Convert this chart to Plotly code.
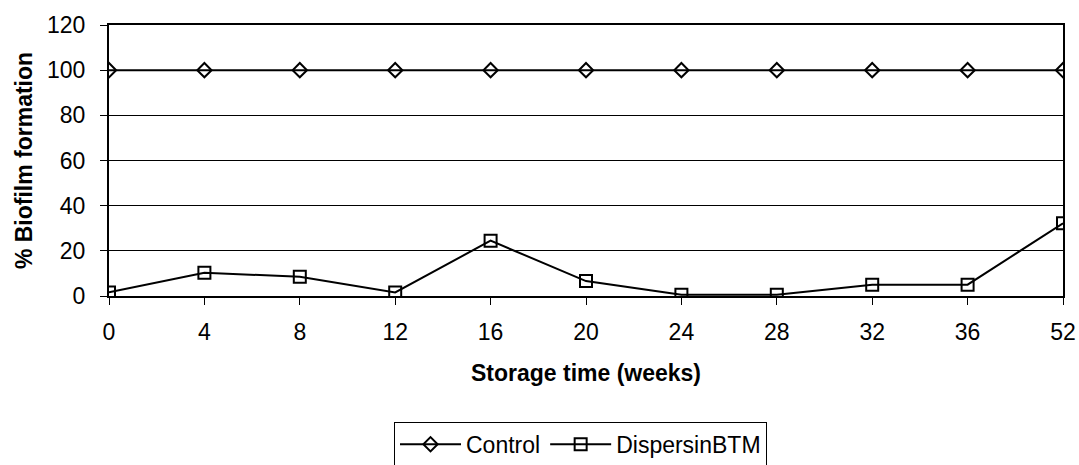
import plotly.graph_objects as go

weeks = ["0", "4", "8", "12", "16", "20", "24", "28", "32", "36", "52"]
control = [100, 100, 100, 100, 100, 100, 100, 100, 100, 100, 100]
dispersin = [1.6, 10.3, 8.5, 1.6, 24.5, 6.6, 0.6, 0.6, 5.0, 5.0, 32.2]

FONT = "Liberation Sans, Arial, sans-serif"
FS = 23

fig = go.Figure()
fig.add_trace(go.Scatter(
    x=weeks, y=control, name="Control", mode="lines+markers",
    line=dict(color="black", width=2),
    marker=dict(symbol="diamond-open", size=11, color="black", line=dict(width=2)),
))
fig.add_trace(go.Scatter(
    x=weeks, y=dispersin, name="DispersinBTM", mode="lines+markers",
    line=dict(color="black", width=2),
    marker=dict(symbol="square-open", size=12, color="black", line=dict(width=2)),
))

fig.update_layout(
    width=1079, height=465,
    margin=dict(l=109, r=16, t=25, b=169, autoexpand=False),
    paper_bgcolor="white", plot_bgcolor="white",
    font=dict(family=FONT, size=FS, color="black"),
    showlegend=True,
    legend=dict(
        orientation="h", xref="container", yref="container",
        x=0.538, xanchor="center", y=0.093, yanchor="top",
        bordercolor="black", borderwidth=1, bgcolor="white",
        font=dict(family=FONT, size=FS), itemwidth=61, tracegroupgap=0,
    ),
    xaxis=dict(
        type="category", range=[0, 10], automargin=False,
        showgrid=False, showline=True, linecolor="black", linewidth=2,
        mirror=True, ticks="outside", ticklen=7, tickcolor="black",
        tickfont=dict(size=FS), ticklabelstandoff=7,
        title=dict(text="<b>Storage time (weeks)</b>", font=dict(size=FS), standoff=21),
    ),
    yaxis=dict(
        range=[0, 120], dtick=20, automargin=False,
        showgrid=True, gridcolor="black", gridwidth=1,
        showline=True, linecolor="black", linewidth=2,
        mirror=True, ticks="outside", ticklen=7, tickcolor="black",
        tickfont=dict(size=FS), zeroline=False, ticklabelstandoff=10,
        title=dict(text="<b>% Biofilm formation</b>", font=dict(size=FS), standoff=8),
    ),
)

fig.write_html("out.html")
